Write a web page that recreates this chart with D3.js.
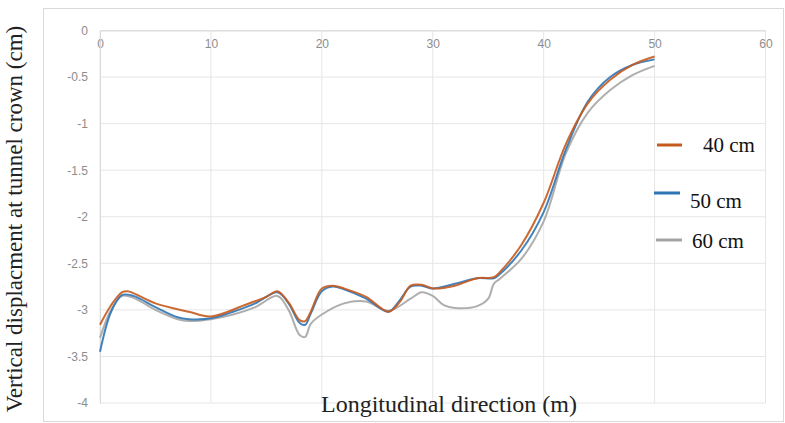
<!DOCTYPE html>
<html><head><meta charset="utf-8">
<script src="https://cdn.jsdelivr.net/npm/d3@7/dist/d3.min.js"></script>
<style>body{margin:0;background:#fff;}svg{display:block;}</style>
</head><body><svg id="c" width="785" height="423"></svg>
<script>
const xTicks = [0,10,20,30,40,50,60];
const yTicks = [0,-0.5,-1,-1.5,-2,-2.5,-3,-3.5,-4];
const seriesNames = ["40 cm","50 cm","60 cm"];
const xs40 = [0,1,2,2.5,3,5,8,10,13,15,16,17,18,18.5,19,20,21,22,24,26,27,28,29,30,32,34,35.5,36,38,40,42,44,46,48,50];
const ys40 = [-3.16,-2.95,-2.81,-2.8,-2.82,-2.93,-3.02,-3.07,-2.95,-2.86,-2.8,-2.92,-3.11,-3.12,-3.02,-2.77,-2.74,-2.77,-2.86,-3.02,-2.92,-2.74,-2.73,-2.77,-2.74,-2.66,-2.65,-2.6,-2.3,-1.85,-1.22,-0.78,-0.53,-0.37,-0.28];
const xs50 = [0,1,2,3,5,7,8,10,12,14,16,17,18,18.5,19,20,21,22,24,26,27,28,29,30,32,34,35.5,36,38,40,42,44,46,48,50];
const ys50 = [-3.45,-3.02,-2.84,-2.85,-2.97,-3.08,-3.1,-3.09,-3.02,-2.93,-2.81,-2.93,-3.14,-3.16,-3.04,-2.8,-2.75,-2.78,-2.88,-3.02,-2.9,-2.75,-2.74,-2.77,-2.72,-2.66,-2.66,-2.62,-2.36,-1.95,-1.28,-0.76,-0.5,-0.37,-0.31];
const xs60 = [0,1,2,3,5,7,8,10,12,14,16,17,18,18.5,19,20,22,24,26,28,29,30,31,32,34,35,35.5,36,38,40,42,44,46,48,50];
const ys60 = [-3.3,-3.0,-2.85,-2.87,-3.0,-3.1,-3.12,-3.1,-3.05,-2.97,-2.85,-3.0,-3.27,-3.29,-3.15,-3.05,-2.93,-2.91,-3.01,-2.88,-2.81,-2.85,-2.95,-2.98,-2.96,-2.88,-2.72,-2.67,-2.45,-2.05,-1.32,-0.88,-0.64,-0.48,-0.38];
const colors = ["#C65A1E","#2E75B6","#A5A5A5"];

const svg = d3.select("#c");
const x = d3.scaleLinear().domain([0,60]).range([100,765.5]);
const y = d3.scaleLinear().domain([-4,0]).range([403,30.5]);

svg.append("rect").attr("x",43.5).attr("y",8.5).attr("width",740).attr("height",413)
  .attr("fill","#fff").attr("stroke","#d9d9d9");

svg.append("g").selectAll("line").data(yTicks).join("line")
  .attr("x1",x(0)).attr("x2",x(60)).attr("y1",d=>y(d)).attr("y2",d=>y(d))
  .attr("stroke","#e6e6e6").attr("stroke-width",1);
svg.append("g").selectAll("line").data(xTicks).join("line")
  .attr("y1",y(0)).attr("y2",y(-4)).attr("x1",d=>x(d)).attr("x2",d=>x(d))
  .attr("stroke","#e6e6e6").attr("stroke-width",1);

const xAxis = d3.axisBottom(x).tickValues(xTicks).tickSize(0).tickPadding(9).tickFormat(d3.format("d"));
const gx = svg.append("g").attr("transform",`translate(0,${y(0)})`).call(xAxis);
gx.select(".domain").attr("stroke","#d9d9d9");
gx.selectAll("text").attr("fill","#8c8c8c").style("font-family","'Liberation Sans', Arial, sans-serif").style("font-size","12px");

const yAxis = d3.axisLeft(y).tickValues(yTicks).tickSize(0).tickPadding(12).tickFormat(d=>String(d));
const gy = svg.append("g").attr("transform",`translate(${x(0)},0)`).call(yAxis);
gy.select(".domain").attr("stroke","#d9d9d9");
gy.selectAll("text").attr("fill","#8c8c8c").style("font-family","'Liberation Sans', Arial, sans-serif").style("font-size","12px");

const data = [d3.zip(xs40,ys40), d3.zip(xs50,ys50), d3.zip(xs60,ys60)];
const line = d3.line().x(d=>x(d[0])).y(d=>y(d[1])).curve(d3.curveCatmullRom.alpha(0.5));
[2,1,0].forEach(i=>{
  svg.append("path").attr("d",line(data[i])).attr("fill","none")
    .attr("stroke",colors[i]).attr("stroke-width",2).attr("stroke-linejoin","round").attr("opacity",0.9);
});

const leg = [
  {lx1:657,lx2:682,ly:145,tx:703,ty:152},
  {lx1:654,lx2:680,ly:193,tx:690,ty:208},
  {lx1:656,lx2:682,ly:240,tx:692,ty:248}
];
leg.forEach((p,i)=>{
  svg.append("line").attr("x1",p.lx1).attr("x2",p.lx2).attr("y1",p.ly).attr("y2",p.ly)
    .attr("stroke",colors[i]).attr("stroke-width",3);
  svg.append("text").attr("x",p.tx).attr("y",p.ty).text(seriesNames[i])
    .style("font-family","'Liberation Serif','Times New Roman',serif").style("font-size","21px").attr("fill","#111");
});

svg.append("text").attr("x",449).attr("y",412).attr("text-anchor","middle")
  .text("Longitudinal direction (m)")
  .style("font-family","'Liberation Serif','Times New Roman',serif").style("font-size","24px").attr("fill","#222");
svg.append("text").attr("transform","translate(22,219) rotate(-90)").attr("text-anchor","middle")
  .text("Vertical displacment at tunnel crown  (cm)")
  .style("font-family","'Liberation Serif','Times New Roman',serif").style("font-size","23px").attr("fill","#222");
</script></body></html>
